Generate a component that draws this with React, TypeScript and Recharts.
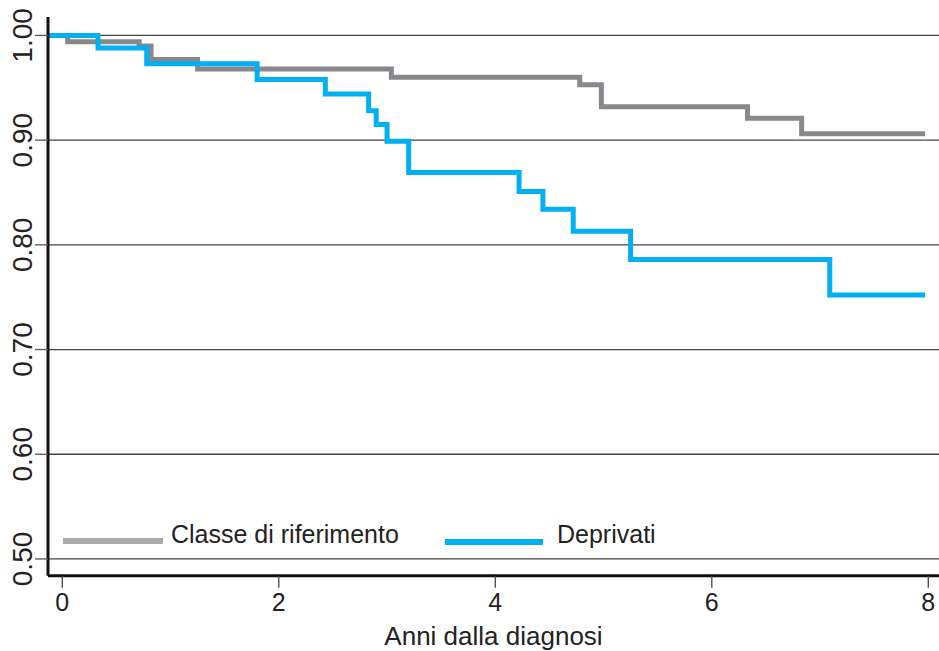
import React from 'react';
import { LineChart, Line, XAxis, YAxis, ReferenceLine } from 'recharts';

// Kaplan-Meier step curves (time in years, survival)
const refTimes = [-0.13, 0.05, 0.71, 0.82, 1.25, 3.04, 4.78, 4.98, 6.33, 6.83, 7.97];
const refSurv = [1.0, 0.994, 0.99, 0.977, 0.968, 0.96, 0.953, 0.932, 0.921, 0.906, 0.906];

const depTimes = [-0.13, 0.33, 0.78, 1.8, 2.43, 2.83, 2.9, 3.0, 3.2, 4.22, 4.44, 4.72, 5.25, 7.09, 7.97];
const depSurv = [1.0, 0.988, 0.973, 0.958, 0.944, 0.928, 0.915, 0.899, 0.869, 0.851, 0.834, 0.813, 0.786, 0.752, 0.752];

const xTicks = [0, 2, 4, 6, 8];
const yTicks = [0.5, 0.6, 0.7, 0.8, 0.9, 1.0];

const seriesNames = ['Classe di riferimento', 'Deprivati'];
const xTitle = 'Anni dalla diagnosi';

const refData = refTimes.map((t, i) => ({ t, s: refSurv[i] }));
const depData = depTimes.map((t, i) => ({ t, s: depSurv[i] }));

const FONT = '"Liberation Sans", Arial, sans-serif';
const GRAY = '#87888c';
const BLUE = '#00b0f0';

const YTick = (props: any) => {
  const { y, payload } = props;
  return (
    <text
      x={0}
      y={0}
      transform={`translate(32, ${y}) rotate(-90)`}
      textAnchor="middle"
      fontSize={28}
      fontFamily={FONT}
      fill="#222"
    >
      {payload.value.toFixed(2)}
    </text>
  );
};

export default function App() {
  return (
    <div style={{ position: 'absolute', left: 0, top: 0, width: 939, height: 651, background: '#fff' }}>
      <LineChart
        width={939}
        height={651}
        margin={{ top: 17, right: 0, bottom: 0, left: 0 }}
      >
        <XAxis
          dataKey="t"
          type="number"
          domain={[-0.132, 8.099]}
          ticks={xTicks}
          allowDataOverflow
          height={75.3}
          axisLine={{ stroke: '#111', strokeWidth: 3 }}
          tickLine={{ stroke: '#444', strokeWidth: 1.3 }}
          tickSize={12}
          tickMargin={6}
          tick={{ fontSize: 25, fill: '#222', fontFamily: FONT }}
          label={{ value: xTitle, position: 'insideBottom', offset: 6, fontSize: 26, fill: '#222', fontFamily: FONT }}
        />
        <YAxis
          dataKey="s"
          type="number"
          domain={[0.484, 1.0176]}
          ticks={yTicks}
          allowDataOverflow
          width={48}
          axisLine={{ stroke: '#111', strokeWidth: 3 }}
          tickLine={{ stroke: '#555', strokeWidth: 1.3 }}
          tickSize={13}
          tick={<YTick />}
        />
        {yTicks.map((v) => (
          <ReferenceLine key={v} y={v} stroke="#444" strokeWidth={1.3} />
        ))}
        <Line
          data={refData}
          dataKey="s"
          type="stepAfter"
          stroke={GRAY}
          strokeWidth={5}
          dot={false}
          activeDot={false}
          isAnimationActive={false}
          name={seriesNames[0]}
        />
        <Line
          data={depData}
          dataKey="s"
          type="stepAfter"
          stroke={BLUE}
          strokeWidth={5}
          dot={false}
          activeDot={false}
          isAnimationActive={false}
          name={seriesNames[1]}
        />
      </LineChart>
      <svg
        width={939}
        height={651}
        style={{ position: 'absolute', left: 0, top: 0, pointerEvents: 'none' }}
      >
        <rect x={63} y={538} width={100} height={6} fill="#ababad" />
        <text x={171} y={543.3} fontSize={25} fontFamily={FONT} fill="#222">
          {seriesNames[0]}
        </text>
        <rect x={445} y={539} width={98} height={6} fill={BLUE} />
        <text x={557} y={543.3} fontSize={25} fontFamily={FONT} fill="#222">
          {seriesNames[1]}
        </text>
      </svg>
    </div>
  );
}
